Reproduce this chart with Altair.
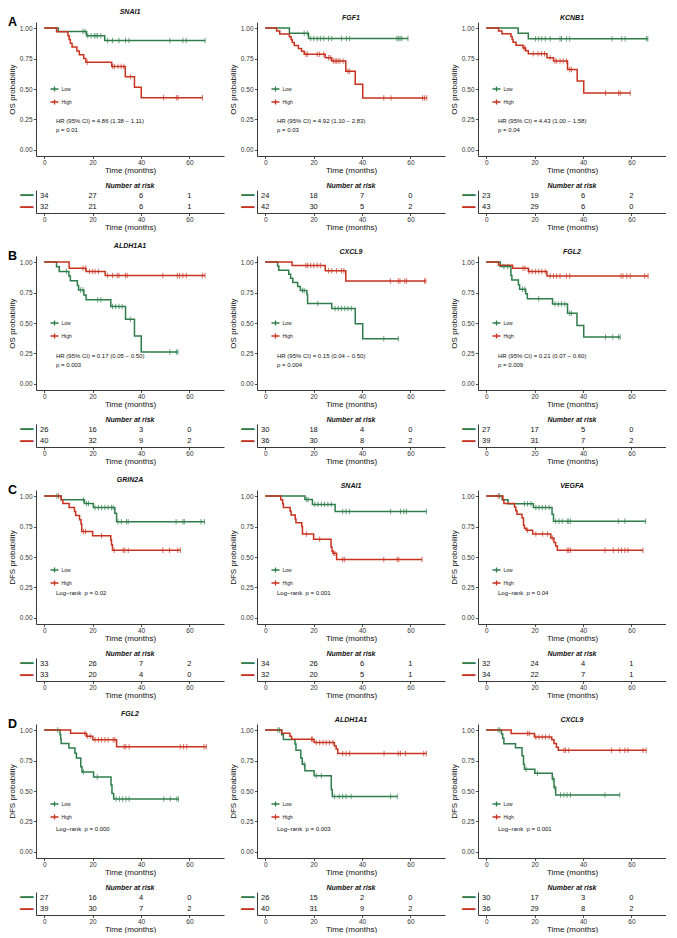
import altair as alt
import pandas as pd

GREEN = "#2E7D4B"
RED = "#C8321F"
FONT = "Liberation Sans"

GROUPS = ["Low", "High"]
RISK_TIMES = [0, 20, 40, 60]

ROW_LETTERS = ["A", "B", "C", "D"]
ROW_YLABELS = ["OS probability", "OS probability", "DFS probability", "DFS probability"]
GENES = [["SNAI1", "FGF1", "KCNB1"],
         ["ALDH1A1", "CXCL9", "FGL2"],
         ["GRIN2A", "SNAI1", "VEGFA"],
         ["FGL2", "ALDH1A1", "CXCL9"]]
LR = "Log\u2212rank\u00a0 p = "
ANNOTATIONS = [
    [["HR (95% CI) = 4.86 (1.38 \u2212 1.11)", "p = 0.01"],
     ["HR (95% CI) = 4.92 (1.10 \u2212 2.83)", "p = 0.03"],
     ["HR (95% CI) = 4.43 (1.00 \u2212 1.58)", "p = 0.04"]],
    [["HR (95% CI) = 0.17 (0.05 \u2212 0.50)", "p = 0.003"],
     ["HR (95% CI) = 0.15 (0.04 \u2212 0.50)", "p = 0.004"],
     ["HR (95% CI) = 0.21 (0.07 \u2212 0.60)", "p = 0.009"]],
    [[LR + "0.02"], [LR + "0.001"], [LR + "0.04"]],
    [[LR + "0.000"], [LR + "0.003"], [LR + "0.001"]],
]

# ---------------- Row A (OS) ----------------
A1_LOW_T = [5.8, 17.5, 25.0]
A1_LOW_S = [0.971, 0.938, 0.899]
A1_LOW_C = [16.0, 16.9, 18.0, 19.4, 20.7, 21.4, 22.1, 23.4, 26.2, 28.2, 30.9, 33.6, 35.0, 51.9, 57.3, 58.7, 66.5]
A1_HIGH_T = [5.1, 9.8, 10.3, 10.8, 11.5, 13.5, 14.5, 16.3, 17.2, 27.9, 33.5, 37.3, 40.1]
A1_HIGH_S = [0.969, 0.938, 0.906, 0.875, 0.844, 0.812, 0.781, 0.75, 0.719, 0.685, 0.60, 0.514, 0.428]
A1_HIGH_C = [17.8, 28.3, 29.0, 30.5, 31.8, 32.9, 35.6, 49.3, 54.6, 55.3, 65.4]
A1_RISK_LOW = [34, 27, 6, 1]
A1_RISK_HIGH = [32, 21, 6, 1]

A2_LOW_T = [10.0, 17.9]
A2_LOW_S = [0.958, 0.915]
A2_LOW_C = [16.1, 17.4, 18.8, 20.1, 21.5, 22.8, 24.2, 26.2, 27.5, 31.5, 33.6, 34.9, 54.4, 55.0, 55.7, 56.4, 59.0]
A2_HIGH_T = [4.7, 6.0, 10.0, 10.7, 11.2, 12.0, 13.7, 15.0, 16.1, 24.8, 27.5, 33.3, 37.2, 40.3]
A2_HIGH_S = [0.976, 0.952, 0.929, 0.905, 0.881, 0.857, 0.833, 0.81, 0.786, 0.757, 0.73, 0.645, 0.539, 0.427]
A2_HIGH_C = [16.8, 17.4, 21.5, 22.5, 24.2, 26.2, 26.9, 28.2, 28.9, 29.5, 30.2, 30.9, 32.2, 34.2, 34.9, 49.0, 52.0, 65.0, 65.8, 66.8]
A2_RISK_LOW = [24, 18, 7, 0]
A2_RISK_HIGH = [42, 30, 5, 2]

A3_LOW_T = [13.2, 17.4]
A3_LOW_S = [0.957, 0.913]
A3_LOW_C = [20.4, 21.7, 23.0, 24.4, 26.4, 30.5, 31.1, 33.2, 34.5, 52.0, 56.0, 57.4, 66.2, 66.8]
A3_HIGH_T = [5.1, 6.5, 10.2, 10.7, 11.1, 12.3, 15.2, 16.3, 17.4, 25.1, 27.8, 33.6, 37.6, 40.3]
A3_HIGH_S = [0.977, 0.953, 0.93, 0.907, 0.884, 0.86, 0.837, 0.814, 0.79, 0.757, 0.73, 0.66, 0.565, 0.467]
A3_HIGH_C = [15.6, 16.0, 19.4, 21.4, 22.8, 24.1, 26.4, 28.4, 29.1, 30.5, 31.8, 33.2, 34.5, 35.2, 49.3, 54.7, 55.4, 59.5]
A3_RISK_LOW = [23, 19, 6, 2]
A3_RISK_HIGH = [43, 29, 6, 0]

# ---------------- Row B (OS) ----------------
B1_LOW_T = [5.1, 6.2, 10.2, 10.8, 13.7, 14.2, 16.4, 17.3, 27.5, 33.6, 37.3, 40.1]
B1_LOW_S = [0.962, 0.923, 0.885, 0.846, 0.808, 0.77, 0.73, 0.69, 0.636, 0.53, 0.394, 0.262]
B1_LOW_C = [9.2, 15.0, 16.0, 22.1, 23.4, 28.2, 29.5, 30.9, 32.2, 35.6, 51.9, 54.6, 55.3]
B1_HIGH_T = [10.3, 17.3, 25.2]
B1_HIGH_S = [0.95, 0.923, 0.89]
B1_HIGH_C = [16.0, 17.0, 18.7, 20.0, 21.0, 22.4, 26.2, 28.2, 30.2, 30.9, 33.6, 34.3, 49.0, 55.0, 55.9, 57.3, 58.7, 65.4, 66.5]
B1_RISK_LOW = [26, 16, 3, 0]
B1_RISK_HIGH = [40, 32, 9, 2]

B2_LOW_T = [5.1, 5.6, 9.7, 10.5, 11.4, 13.4, 14.5, 17.2, 17.5, 27.5, 37.2, 40.3]
B2_LOW_S = [0.967, 0.933, 0.9, 0.867, 0.833, 0.8, 0.767, 0.733, 0.66, 0.62, 0.494, 0.37]
B2_LOW_C = [15.4, 16.1, 21.7, 28.9, 30.2, 31.5, 32.9, 34.2, 35.6, 49.0, 55.0]
B2_HIGH_T = [11.1, 24.8, 33.3]
B2_HIGH_S = [0.972, 0.929, 0.844]
B2_HIGH_C = [16.8, 17.5, 18.8, 20.1, 21.5, 22.8, 26.2, 27.5, 29.5, 31.5, 32.5, 51.7, 55.0, 55.7, 57.7, 58.4, 65.8, 66.4]
B2_RISK_LOW = [30, 18, 4, 0]
B2_RISK_HIGH = [36, 30, 8, 2]

B3_LOW_T = [5.8, 10.2, 10.6, 13.3, 13.8, 16.3, 17.0, 27.4, 33.6, 37.5, 40.3]
B3_LOW_S = [0.963, 0.889, 0.852, 0.815, 0.778, 0.741, 0.70, 0.655, 0.58, 0.48, 0.386]
B3_LOW_C = [7.3, 8.9, 15.0, 16.0, 21.7, 28.4, 29.8, 31.1, 32.5, 34.5, 35.2, 49.3, 52.3, 54.7, 55.4]
B3_HIGH_T = [5.1, 10.9, 17.4, 25.1]
B3_HIGH_S = [0.974, 0.949, 0.923, 0.885]
B3_HIGH_C = [15.2, 16.0, 17.7, 19.0, 20.4, 21.7, 23.0, 24.4, 26.4, 27.8, 29.1, 30.5, 33.2, 34.5, 55.7, 56.5, 58.1, 59.5, 65.5, 66.9]
B3_RISK_LOW = [27, 17, 5, 0]
B3_RISK_HIGH = [39, 31, 7, 2]

# ---------------- Row C (DFS) ----------------
C1_LOW_T = [7.0, 16.6, 20.3, 29.2, 29.9]
C1_LOW_S = [0.97, 0.94, 0.906, 0.86, 0.789]
C1_LOW_C = [5.2, 16.2, 17.5, 18.3, 21.0, 22.4, 23.7, 25.1, 26.4, 27.8, 28.5, 30.5, 31.9, 34.0, 34.7, 54.5, 57.3, 57.9, 64.8, 66.2]
C1_HIGH_T = [7.0, 7.7, 10.3, 12.5, 13.0, 14.6, 15.2, 15.5, 20.0, 27.5, 27.8, 28.2]
C1_HIGH_S = [0.97, 0.94, 0.906, 0.873, 0.84, 0.806, 0.77, 0.71, 0.675, 0.64, 0.60, 0.555]
C1_HIGH_C = [5.9, 16.2, 17.1, 23.7, 28.9, 32.6, 33.3, 34.7, 49.0, 51.8, 55.2, 56.3]
C1_RISK_LOW = [33, 26, 7, 2]
C1_RISK_HIGH = [33, 20, 4, 0]

C2_LOW_T = [16.4, 19.5, 28.9]
C2_LOW_S = [0.971, 0.932, 0.874]
C2_LOW_C = [17.0, 17.7, 20.5, 21.8, 23.2, 24.5, 25.9, 27.3, 32.0, 33.4, 34.8, 51.8, 55.9, 57.3, 58.4, 66.6]
C2_HIGH_T = [6.4, 7.2, 7.5, 10.3, 10.7, 12.4, 12.7, 15.1, 15.4, 20.0, 27.2, 27.6, 28.0, 29.5]
C2_HIGH_S = [0.969, 0.938, 0.906, 0.875, 0.844, 0.812, 0.781, 0.75, 0.688, 0.645, 0.58, 0.548, 0.53, 0.48]
C2_HIGH_C = [17.0, 22.5, 28.3, 28.8, 32.0, 32.7, 49.0, 54.5, 55.2, 64.8]
C2_RISK_LOW = [34, 26, 6, 1]
C2_RISK_HIGH = [32, 20, 5, 1]

C3_LOW_T = [6.6, 9.0, 19.5, 27.2, 27.8]
C3_LOW_S = [0.969, 0.938, 0.906, 0.85, 0.793]
C3_LOW_C = [5.5, 15.8, 17.1, 18.5, 20.5, 21.8, 23.2, 24.5, 26.0, 28.7, 30.1, 31.4, 33.5, 34.1, 34.8, 54.6, 57.3, 65.9]
C3_HIGH_T = [6.9, 7.3, 11.7, 12.2, 12.7, 14.8, 15.4, 15.8, 16.5, 19.2, 26.7, 28.0, 28.7, 29.4]
C3_HIGH_S = [0.97, 0.94, 0.91, 0.88, 0.85, 0.82, 0.76, 0.735, 0.72, 0.688, 0.655, 0.62, 0.59, 0.555]
C3_HIGH_C = [4.9, 17.0, 20.5, 23.3, 25.3, 27.3, 33.5, 34.1, 34.8, 49.1, 52.5, 54.6, 55.9, 57.3, 58.6, 64.8]
C3_RISK_LOW = [32, 24, 4, 1]
C3_RISK_HIGH = [34, 22, 7, 1]

# ---------------- Row D (DFS) ----------------
D1_LOW_T = [6.5, 6.8, 7.0, 10.2, 12.7, 13.3, 15.1, 15.6, 20.4, 27.6, 28.0, 28.7]
D1_LOW_S = [0.963, 0.926, 0.889, 0.852, 0.81, 0.77, 0.70, 0.657, 0.615, 0.55, 0.48, 0.435]
D1_LOW_C = [5.6, 16.2, 21.9, 29.7, 31.1, 32.4, 33.8, 35.1, 49.4, 52.1, 54.8, 55.5]
D1_HIGH_T = [10.9, 17.4, 20.1, 29.9]
D1_HIGH_S = [0.974, 0.949, 0.92, 0.863]
D1_HIGH_C = [16.8, 17.8, 19.0, 21.0, 22.4, 23.7, 25.1, 26.4, 28.5, 29.2, 33.0, 33.7, 35.1, 56.2, 57.6, 58.9, 66.0, 67.0]
D1_RISK_LOW = [27, 16, 4, 0]
D1_RISK_HIGH = [39, 30, 7, 2]

D2_LOW_T = [6.8, 7.5, 12.3, 12.7, 14.7, 15.3, 16.4, 20.2, 27.3, 27.7]
D2_LOW_S = [0.962, 0.923, 0.885, 0.834, 0.77, 0.72, 0.666, 0.626, 0.513, 0.455]
D2_LOW_C = [5.2, 5.9, 16.1, 21.1, 23.2, 28.6, 30.6, 32.0, 33.4, 35.5, 51.8, 54.6]
D2_HIGH_T = [6.8, 10.2, 10.9, 20.2, 28.6, 29.3, 30.0]
D2_HIGH_S = [0.975, 0.95, 0.925, 0.898, 0.87, 0.845, 0.807]
D2_HIGH_C = [19.1, 19.5, 21.1, 22.5, 23.9, 25.2, 26.6, 28.0, 32.0, 33.4, 34.8, 49.1, 55.0, 55.9, 58.0, 65.5, 66.6]
D2_RISK_LOW = [26, 15, 2, 0]
D2_RISK_HIGH = [40, 31, 9, 2]

D3_LOW_T = [6.3, 6.8, 7.3, 12.1, 14.8, 15.4, 15.8, 20.1, 27.3, 28.0, 28.7]
D3_LOW_S = [0.967, 0.933, 0.888, 0.856, 0.79, 0.72, 0.679, 0.645, 0.60, 0.53, 0.468]
D3_LOW_C = [4.9, 5.6, 16.5, 21.2, 27.6, 28.3, 30.7, 32.1, 33.4, 34.8, 49.1, 55.2]
D3_HIGH_T = [10.3, 19.9, 27.1, 28.0, 29.0, 29.8]
D3_HIGH_S = [0.972, 0.944, 0.92, 0.89, 0.86, 0.835]
D3_HIGH_C = [17.1, 17.8, 20.5, 21.8, 23.2, 24.5, 26.0, 32.1, 32.8, 34.1, 51.8, 55.2, 57.3, 58.6, 64.8, 66.1]
D3_RISK_LOW = [30, 17, 3, 0]
D3_RISK_HIGH = [36, 29, 8, 2]

PANELS = [
    [((A1_LOW_T, A1_LOW_S, A1_LOW_C), (A1_HIGH_T, A1_HIGH_S, A1_HIGH_C), A1_RISK_LOW, A1_RISK_HIGH),
     ((A2_LOW_T, A2_LOW_S, A2_LOW_C), (A2_HIGH_T, A2_HIGH_S, A2_HIGH_C), A2_RISK_LOW, A2_RISK_HIGH),
     ((A3_LOW_T, A3_LOW_S, A3_LOW_C), (A3_HIGH_T, A3_HIGH_S, A3_HIGH_C), A3_RISK_LOW, A3_RISK_HIGH)],
    [((B1_LOW_T, B1_LOW_S, B1_LOW_C), (B1_HIGH_T, B1_HIGH_S, B1_HIGH_C), B1_RISK_LOW, B1_RISK_HIGH),
     ((B2_LOW_T, B2_LOW_S, B2_LOW_C), (B2_HIGH_T, B2_HIGH_S, B2_HIGH_C), B2_RISK_LOW, B2_RISK_HIGH),
     ((B3_LOW_T, B3_LOW_S, B3_LOW_C), (B3_HIGH_T, B3_HIGH_S, B3_HIGH_C), B3_RISK_LOW, B3_RISK_HIGH)],
    [((C1_LOW_T, C1_LOW_S, C1_LOW_C), (C1_HIGH_T, C1_HIGH_S, C1_HIGH_C), C1_RISK_LOW, C1_RISK_HIGH),
     ((C2_LOW_T, C2_LOW_S, C2_LOW_C), (C2_HIGH_T, C2_HIGH_S, C2_HIGH_C), C2_RISK_LOW, C2_RISK_HIGH),
     ((C3_LOW_T, C3_LOW_S, C3_LOW_C), (C3_HIGH_T, C3_HIGH_S, C3_HIGH_C), C3_RISK_LOW, C3_RISK_HIGH)],
    [((D1_LOW_T, D1_LOW_S, D1_LOW_C), (D1_HIGH_T, D1_HIGH_S, D1_HIGH_C), D1_RISK_LOW, D1_RISK_HIGH),
     ((D2_LOW_T, D2_LOW_S, D2_LOW_C), (D2_HIGH_T, D2_HIGH_S, D2_HIGH_C), D2_RISK_LOW, D2_RISK_HIGH),
     ((D3_LOW_T, D3_LOW_S, D3_LOW_C), (D3_HIGH_T, D3_HIGH_S, D3_HIGH_C), D3_RISK_LOW, D3_RISK_HIGH)],
]

# ---------------- layout / style ----------------
W = 188
H_KM = 134
H_TAB = 23
LEGEND_Y = [62, 62, 75, 75]
ANNOT_Y = [99, 100, 103, 105]

XSCALE = alt.Scale(domain=[-3.4, 74.3], nice=False, zero=False)
YSCALE = alt.Scale(domain=[-0.05, 1.05], nice=False, zero=False)
CSCALE = alt.Scale(domain=GROUPS, range=[GREEN, RED])


def surv_at(T, S, t):
    s = 1.0
    for ti, si in zip(T, S):
        if ti <= t:
            s = si
    return s


def x_axis():
    return alt.Axis(values=RISK_TIMES, title="Time (months)", tickSize=2.5,
                    labelPadding=0.5, labelFontSize=6.5, titleFontSize=8,
                    titlePadding=0.5, titleFontWeight="normal")


def km_chart(gene, ylab, low, high, legend_y, annot, annot_y, letter):
    line_rows, cens_rows = [], []
    for g, (T, S, C) in zip(GROUPS, (low, high)):
        end = max(T + C)
        ts = [0.0] + list(T) + [end]
        ss = [1.0] + list(S) + [S[-1]]
        line_rows += [{"group": g, "time": t, "surv": s} for t, s in zip(ts, ss)]
        cens_rows += [{"group": g, "time": c, "surv": surv_at(T, S, c)} for c in C]
    df_line = pd.DataFrame(line_rows)
    df_cens = pd.DataFrame(cens_rows)

    yaxis = alt.Axis(values=[0, 0.25, 0.5, 0.75, 1.0], format=".2f", title=ylab,
                     tickSize=2.5, labelPadding=1.5, labelFontSize=6.5,
                     titleFontSize=8, titleFontWeight="normal", titlePadding=3,
                     minExtent=17, maxExtent=17)
    legend = alt.Legend(orient="none", legendX=13.5, legendY=legend_y, title=None,
                        direction="vertical",
                        symbolType="M-1,0L1,0M0,-0.6L0,0.6", symbolSize=64,
                        symbolStrokeWidth=1.3, symbolFillColor="transparent",
                        labelFontSize=5, labelFont=FONT, labelColor="#222",
                        labelOffset=2, rowPadding=3, padding=0)
    xenc = alt.X("time:Q", scale=XSCALE, axis=x_axis())
    yenc = alt.Y("surv:Q", scale=YSCALE, axis=yaxis)

    lines = alt.Chart(df_line).mark_line(interpolate="step-after", strokeWidth=1.5).encode(
        x=xenc, y=yenc,
        color=alt.Color("group:N", scale=CSCALE, legend=legend),
    )
    ticks = alt.Chart(df_cens).mark_tick(orient="vertical", size=5.5, thickness=1).encode(
        x=xenc, y=yenc,
        color=alt.Color("group:N", scale=CSCALE, legend=None),
    )
    layers = [lines, ticks]
    for i, txt in enumerate(annot):
        layers.append(
            alt.Chart(pd.DataFrame({"t": [txt]})).mark_text(
                align="left", baseline="middle", fontSize=6, font=FONT, color="#111"
            ).encode(text="t:N", x=alt.value(20), y=alt.value(annot_y + 9 * i))
        )
    if letter:
        layers.append(
            alt.Chart(pd.DataFrame({"t": [letter]})).mark_text(
                align="left", baseline="alphabetic", fontSize=12.5, fontWeight="bold",
                font=FONT, color="black"
            ).encode(text="t:N", x=alt.value(-28), y=alt.value(4))
        )
    return alt.layer(*layers).properties(
        width=W, height=H_KM,
        title=alt.TitleParams(text=gene, fontSize=7, fontStyle="italic",
                              fontWeight="bold", offset=1, anchor="middle", font=FONT),
    )


def risk_chart(risk_low, risk_high):
    rows = []
    for g, risk in zip(GROUPS, (risk_low, risk_high)):
        rows += [{"group": g, "time": t, "n": n} for t, n in zip(RISK_TIMES, risk)]
    df = pd.DataFrame(rows)
    yaxis = alt.Axis(title=None, ticks=False, labelExpr="'\u2501\u2501'",
                     labelColor={"condition": {"test": "datum.value === 'Low'", "value": GREEN},
                                 "value": RED},
                     labelFont="DejaVu Sans", labelFontSize=11, labelFontWeight="bold",
                     labelPadding=3, labelBaseline="middle")
    return alt.Chart(df).mark_text(fontSize=7.5, font=FONT, color="#111").encode(
        x=alt.X("time:Q", scale=XSCALE, axis=x_axis()),
        y=alt.Y("group:N", scale=alt.Scale(domain=GROUPS, paddingInner=0, paddingOuter=0),
                axis=yaxis),
        text="n:Q",
    ).properties(
        width=W, height=H_TAB,
        title=alt.TitleParams(text="Number at risk", fontSize=7, fontStyle="italic",
                              fontWeight="bold", offset=1, anchor="middle", font=FONT),
    )


rows = []
for r in range(4):
    panels = []
    for c in range(3):
        low, high, rl, rh = PANELS[r][c]
        km = km_chart(GENES[r][c], ROW_YLABELS[r], low, high, LEGEND_Y[r],
                      ANNOTATIONS[r][c], ANNOT_Y[r], ROW_LETTERS[r] if c == 0 else None)
        tab = risk_chart(rl, rh)
        panels.append(alt.vconcat(km, tab, spacing=7).resolve_scale(color="independent"))
    rows.append(alt.hconcat(*panels, spacing=5).resolve_scale(color="independent"))

chart = alt.vconcat(*rows, spacing=11).resolve_scale(color="independent").properties(
    padding=0, background="white"
).configure_view(stroke=None).configure_axis(
    grid=False, domainColor="#222", tickColor="#222", labelColor="#333",
    titleColor="#111", labelFont=FONT, titleFont=FONT, domainWidth=0.9, tickWidth=0.8,
).configure_title(font=FONT, color="#111")

chart.save("out.html", embed_options={"renderer": "svg", "actions": False})
